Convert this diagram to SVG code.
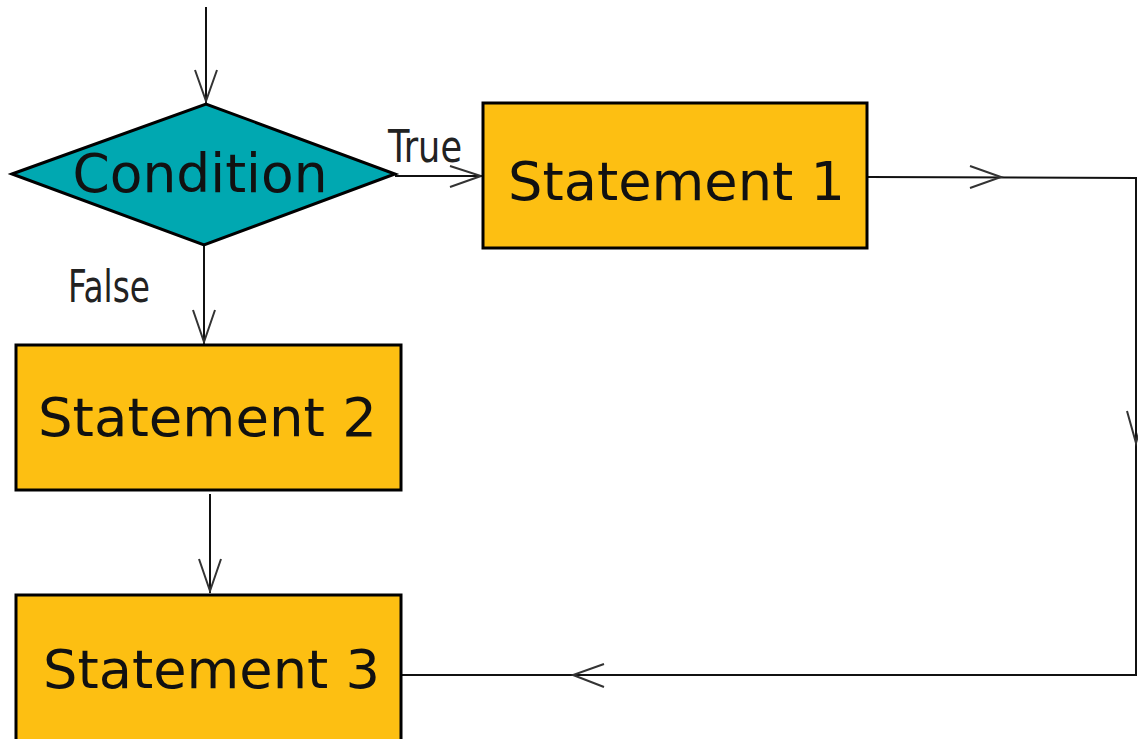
<svg xmlns="http://www.w3.org/2000/svg" width="1138" height="739" viewBox="0 0 1138 739">
<style>
.box{fill:#FDBF12;stroke:#000;stroke-width:3}
.dia{fill:#00A8B1;stroke:#000;stroke-width:3}
.lbl{font-family:"DejaVu Sans",Verdana,sans-serif;font-size:54px;fill:#111}
.cond{font-family:"DejaVu Sans Condensed","Liberation Sans Narrow","DejaVu Sans",sans-serif;font-size:44px;fill:#222}
.ln{stroke:#111;stroke-width:2;fill:none}
.ah{stroke:#333;stroke-width:2;fill:none}
</style>
<rect width="1138" height="739" fill="#fff"/>
<g id="connectors">
  <line class="ln" x1="206" y1="7" x2="206" y2="103"/>
  <polyline class="ah" points="195,70 206,101 217,70"/>
  <line class="ln" x1="395" y1="176" x2="482" y2="176"/>
  <polyline class="ah" points="450,166 481,176 450,187"/>
  <line class="ln" x1="204" y1="245" x2="204" y2="344"/>
  <polyline class="ah" points="193,310 204,342 215,310"/>
  <line class="ln" x1="210" y1="494" x2="210" y2="593"/>
  <polyline class="ah" points="199,559 210,591 221,559"/>
  <polyline class="ln" points="868,177 1136,178 1136,675 402,675"/>
  <polyline class="ah" points="970,166 1001,177 970,188"/>
  <polyline class="ah" points="1127,411 1136,443 1145,411"/>
  <polyline class="ah" points="604,664 573,675 604,687"/>
</g>
<g id="condition">
  <polygon class="dia" points="12,174 206,104 395,174 204,245"/>
  <text class="lbl" x="200" y="192" text-anchor="middle" textLength="255" lengthAdjust="spacingAndGlyphs">Condition</text>
</g>
<g id="label-true">
  <text class="cond" x="388" y="162" textLength="74" lengthAdjust="spacingAndGlyphs">True</text>
</g>
<g id="label-false">
  <text class="cond" x="68" y="302" textLength="82" lengthAdjust="spacingAndGlyphs">False</text>
</g>
<g id="statement1">
  <rect class="box" x="483" y="103" width="384" height="145"/>
  <text class="lbl" x="508" y="200" textLength="337" lengthAdjust="spacingAndGlyphs">Statement 1</text>
</g>
<g id="statement2">
  <rect class="box" x="16" y="345" width="385" height="145"/>
  <text class="lbl" x="38" y="436" textLength="339" lengthAdjust="spacingAndGlyphs">Statement 2</text>
</g>
<g id="statement3">
  <rect class="box" x="16" y="595" width="385" height="150"/>
  <text class="lbl" x="43" y="688" textLength="337" lengthAdjust="spacingAndGlyphs">Statement 3</text>
</g>
</svg>
